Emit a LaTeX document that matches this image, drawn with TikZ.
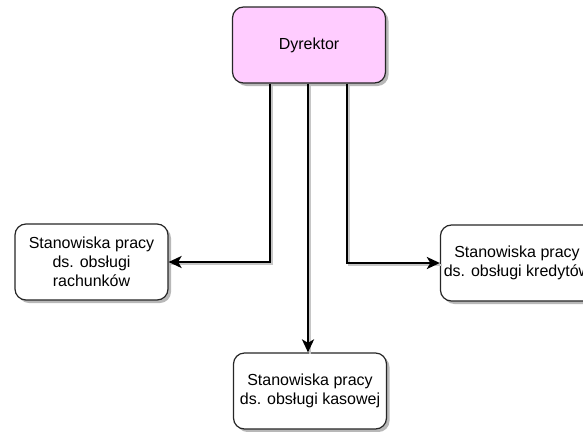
\documentclass[tikz,border=0pt]{standalone}
\usepackage{fontspec}
\setmainfont{Liberation Sans}
\usetikzlibrary{arrows.meta,shadows}
\usetikzlibrary{positioning}

\begin{document}
\begin{tikzpicture}[x=1pt,y=-1pt,
	every node/.style={font=\fontsize{16}{19}\selectfont},
	unit/.style={draw=black!85,line width=1.2pt,rounded corners=11pt,
		minimum width=153pt,minimum height=76pt,align=center,fill=white,
		drop shadow={shadow xshift=3pt,shadow yshift=-3pt,fill=gray!70,opacity=0.8}},
	head/.style={unit,fill={rgb,255:red,255;green,204;blue,255}},
	link/.style={line width=2.4pt,-{Stealth[length=13pt,width=12pt,inset=3.5pt]},
		preaction={draw=gray!45,line width=2.4pt,-,transform canvas={shift={(2pt,-2pt)}}}}]
	\useasboundingbox (0,0) rectangle (583,431);

	\node [head] (dyr) at (309,45) {Dyrektor};
	\node [unit] (rach) at (91.5,262) {Stanowiska pracy\\ds. obsługi\\rachunków};
	\node [unit] (kred) at (517,263) {Stanowiska pracy\\ds. obsługi kredytów};
	\node [unit] (kas) at (310,391) {Stanowiska pracy\\ds. obsługi kasowej};

	% polaczenia
	\coordinate (p1) at (270,0);
	\coordinate (p3) at (347,0);
	\draw [link] (dyr.south -| p1) |- (rach.east);
	\draw [link] (dyr.south) ++(-1,0) -- (kas.north -| 308,0);
	\draw [link] (dyr.south -| p3) |- (kred.west);
\end{tikzpicture}
\end{document}
